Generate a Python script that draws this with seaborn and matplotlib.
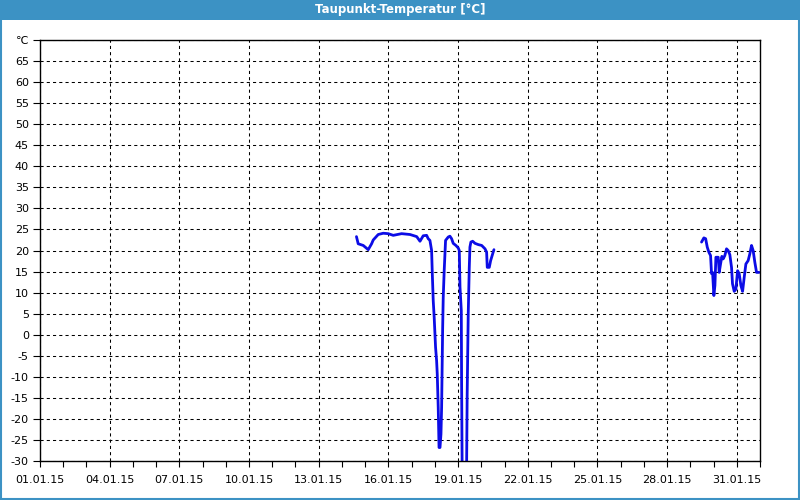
import matplotlib
matplotlib.use("Agg")
import matplotlib.pyplot as plt
import matplotlib.dates as mdates
from matplotlib.patches import Rectangle
import pandas as pd
import numpy as np
import seaborn as sns

# ---- data ----
seg1_times = [
    "2015-01-14 15:00", "2015-01-14 16:48", "2015-01-14 22:00", "2015-01-15 03:10",
    "2015-01-15 06:40", "2015-01-15 08:20", "2015-01-15 13:30", "2015-01-15 18:40",
    "2015-01-15 23:50", "2015-01-16 05:00", "2015-01-16 13:40", "2015-01-16 22:20",
    "2015-01-17 05:15", "2015-01-17 08:40", "2015-01-17 12:00", "2015-01-17 15:30",
    "2015-01-17 17:10", "2015-01-17 18:55", "2015-01-17 20:40", "2015-01-17 21:20",
    "2015-01-17 22:20", "2015-01-17 23:20", "2015-01-18 00:45", "2015-01-18 01:50",
    "2015-01-18 02:30", "2015-01-18 03:30", "2015-01-18 04:20", "2015-01-18 05:20",
    "2015-01-18 06:20", "2015-01-18 07:00", "2015-01-18 08:05", "2015-01-18 08:40",
    "2015-01-18 09:40", "2015-01-18 11:05", "2015-01-18 13:50", "2015-01-18 15:35",
    "2015-01-18 17:20", "2015-01-18 19:00", "2015-01-18 21:45", "2015-01-19 00:10",
    "2015-01-19 01:15", "2015-01-19 02:00", "2015-01-19 03:20", "2015-01-19 03:40",
    "2015-01-19 04:20", "2015-01-19 08:40", "2015-01-19 09:25", "2015-01-19 10:30",
    "2015-01-19 11:35", "2015-01-19 12:15", "2015-01-19 13:15", "2015-01-19 15:05",
    "2015-01-19 17:30", "2015-01-19 20:55", "2015-01-20 00:25", "2015-01-20 03:50",
    "2015-01-20 05:30", "2015-01-20 06:10", "2015-01-20 08:15", "2015-01-20 09:40",
    "2015-01-20 11:45", "2015-01-20 13:05",
]
seg1_values = [
    23.3, 21.6, 21.2, 20.2, 21.6, 22.5, 23.8, 24.1, 24.0, 23.6, 24.0, 23.8,
    23.3, 22.2, 23.5, 23.6, 22.8, 22.4, 20.0, 14.8, 8.1, 4.1, -3.0, -6.2,
    -9.4, -17.3, -26.8, -26.8, -23.6, -17.3, 1.7, 8.8, 15.2, 22.4, 23.2, 23.4,
    22.8, 21.7, 21.2, 20.6, 20.0, 11.3, 5.7, -11.7, -36.0, -36.0, -14.1, 4.9,
    16.0, 20.8, 22.0, 22.2, 21.7, 21.4, 21.2, 20.4, 19.6, 16.0, 16.0, 17.6,
    19.2, 20.2,
]
seg2_times = [
    "2015-01-29 11:35", "2015-01-29 14:00", "2015-01-29 15:50", "2015-01-29 17:30",
    "2015-01-29 19:10", "2015-01-29 20:55", "2015-01-29 21:55", "2015-01-29 23:00",
    "2015-01-30 00:20", "2015-01-30 01:25", "2015-01-30 02:25", "2015-01-30 04:50",
    "2015-01-30 05:50", "2015-01-30 07:15", "2015-01-30 08:35", "2015-01-30 09:55",
    "2015-01-30 11:40", "2015-01-30 13:25", "2015-01-30 15:05", "2015-01-30 16:50",
    "2015-01-30 18:35", "2015-01-30 19:35", "2015-01-30 21:20", "2015-01-30 23:05",
    "2015-01-31 00:50", "2015-01-31 02:30", "2015-01-31 04:15", "2015-01-31 06:00",
    "2015-01-31 07:40", "2015-01-31 09:25", "2015-01-31 11:45", "2015-01-31 13:30",
    "2015-01-31 15:15", "2015-01-31 16:55", "2015-01-31 18:40", "2015-01-31 20:25",
    "2015-01-31 23:05",
]
seg2_values = [
    22.0, 23.0, 22.8, 20.8, 19.6, 18.8, 14.5, 14.8, 9.3, 11.7, 18.4, 18.4,
    14.8, 16.8, 18.6, 18.0, 18.8, 20.4, 20.0, 19.0, 16.0, 12.1, 10.3, 10.8,
    15.2, 14.5, 11.7, 10.3, 13.6, 16.8, 17.6, 19.2, 21.2, 20.0, 17.2, 14.8,
    14.8,
]
x_ticks = ["2015-01-01", "2015-01-04", "2015-01-07", "2015-01-10", "2015-01-13",
           "2015-01-16", "2015-01-19", "2015-01-22", "2015-01-25", "2015-01-28",
           "2015-01-31"]
y_ticks = [-30, -25, -20, -15, -10, -5, 0, 5, 10, 15, 20, 25, 30, 35, 40, 45, 50, 55, 60, 65, 70]
unit_label = "℃"
title = "Taupunkt-Temperatur [°C]"

df = pd.concat([
    pd.DataFrame({"time": pd.to_datetime(seg1_times), "value": seg1_values, "seg": 1}),
    pd.DataFrame({"time": pd.to_datetime(seg2_times), "value": seg2_values, "seg": 2}),
])

sns.set_style("white")
plt.rcParams["font.family"] = ["DejaVu Sans"]

fig = plt.figure(figsize=(8, 5), dpi=100)
fig.patch.set_facecolor("white")
ax = fig.add_axes([40 / 800, 1 - 461 / 500, 720 / 800, 421 / 500])

sns.lineplot(data=df, x="time", y="value", units="seg", estimator=None,
             color="#0c0ce6", linewidth=2, ax=ax, legend=False)

ax.set_xlim(pd.Timestamp("2015-01-01"), pd.Timestamp("2015-02-01"))
ax.set_ylim(-30, 70)
ax.set_xlabel("")
ax.set_ylabel("")

xt = pd.to_datetime(x_ticks)
ax.set_xticks(xt)
ax.set_xticklabels([t.strftime("%d.%m.%y") for t in xt])
ax.xaxis.set_minor_locator(mdates.DayLocator())
ax.set_yticks(y_ticks)
ax.set_yticklabels([str(v) for v in y_ticks[:-1]] + [unit_label])

ax.tick_params(axis="both", which="both", direction="out", labelsize=8, colors="black",
               width=0.8)
ax.tick_params(axis="x", which="major", length=4, pad=6, bottom=True)
ax.tick_params(axis="x", which="minor", length=4, bottom=True)
ax.tick_params(axis="y", which="major", length=5, pad=3, left=True)

ax.grid(True, which="major", color="black", linestyle=(0, (3, 3)), linewidth=0.75)
ax.set_axisbelow(True)
for side in ["top", "right", "left", "bottom"]:
    ax.spines[side].set_visible(True)
    ax.spines[side].set_color("black")
    ax.spines[side].set_linewidth(1.0)

# title bar and frame
fig.add_artist(Rectangle((0, 1 - 20 / 500), 1, 20 / 500, transform=fig.transFigure,
                         facecolor="#3c92c4", edgecolor="none", zorder=0))
fig.add_artist(Rectangle((0.001, 0.002), 0.998, 0.997, transform=fig.transFigure,
                         facecolor="none", edgecolor="#3c92c4", linewidth=1.5, zorder=0))
fig.text(0.5, 1 - 10 / 500, title, color="white", fontsize=8.5, fontweight="bold",
         ha="center", va="center")

fig.savefig("out.png", dpi=100)
